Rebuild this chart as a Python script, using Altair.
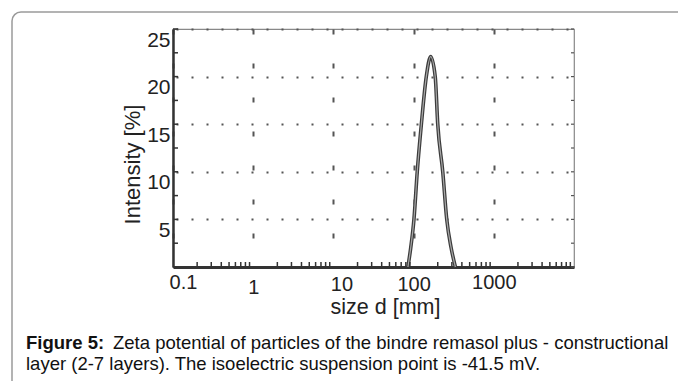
import altair as alt
import pandas as pd

# ---- data ----
sizes = [85, 92, 101, 111, 125, 144, 163, 186, 200, 231, 259, 294, 332]
intensity = [0, 2, 5, 10, 15, 20, 22.1, 20, 15, 10, 5, 2, 0]

x_tick_values = [0.1, 1, 10, 100, 1000]
y_tick_values = [0, 5, 10, 15, 20, 25]
x_minor = [m * 10 ** e for e in range(-1, 4) for m in range(2, 10)]
y_minor = [2.5, 7.5, 12.5, 17.5, 22.5]

x_title = "size d [mm]"
y_title = "Intensity [%]"
caption_bold = ["Figure 5:"]
caption_rest = ["Zeta potential of particles of the bindre remasol plus - constructional"]
caption_line2 = ["layer (2-7 layers). The isoelectric suspension point is -41.5 mV."]

W, H = 401, 238
FONT = "Liberation Sans"
CAP = 18.5

df = pd.DataFrame({"size": sizes, "intensity": intensity})

xs = alt.Scale(type="log", domain=[0.1, 10000], nice=False)
ys = alt.Scale(domain=[0, 25], nice=False)

base = alt.Chart(df).encode(
    x=alt.X("size:Q", scale=xs,
            axis=alt.Axis(values=x_tick_values, title=x_title, grid=True,
                          gridDash=[5, 29], gridColor="#555", gridWidth=2,
                          ticks=False, labelFlush=False,
                          labelPadding={"condition": [
                              {"test": "datum.value > 0.5 && datum.value < 5", "value": 10},
                              {"test": "datum.value > 5 && datum.value < 500", "value": 7}],
                              "value": 5},
                          labelOffset={"condition": [
                              {"test": "datum.value < 0.5", "value": 10},
                              {"test": "datum.value > 5 && datum.value < 50", "value": 8}],
                              "value": 0},
                          labelFontSize=20, labelFont=FONT, labelColor="#222",
                          labelExpr="format(datum.value, '~g')",
                          domainColor="#333", domainWidth=3,
                          titleFontSize=21.5, titleFont=FONT, titleFontWeight="normal",
                          titleColor="#222", titleAlign="center",
                          titleBaseline="alphabetic", titleX=212, titleY=46)),
    y=alt.Y("intensity:Q", scale=ys,
            axis=alt.Axis(values=y_tick_values, title=y_title, grid=True,
                          gridDash=[2, 13], gridColor="#555", gridWidth=2.2,
                          gridDashOffset=-3,
                          ticks=False, labelPadding=3, labelBaseline="top",
                          labelFontSize=21, labelFont=FONT, labelColor="#222",
                          labelExpr="datum.value == 0 ? '' : datum.label",
                          domainColor="#333", domainWidth=2.5,
                          titleFontSize=22, titleFont=FONT, titleFontWeight="normal",
                          titleColor="#222", titleAngle=-90, titleAlign="center",
                          titleBaseline="alphabetic", titleX=-34, titleY=135)),
)

line_outer = base.mark_line(color="#3c3c3c", strokeWidth=3.6, interpolate="monotone")
line_inner = base.mark_line(color="#a8a8a8", strokeWidth=1.2, interpolate="monotone")

xminor_df = pd.DataFrame({"xm": x_minor})
xminor = alt.Chart(xminor_df).mark_rule(color="#333", strokeWidth=1.5).encode(
    x=alt.X("xm:Q", scale=xs), y=alt.value(H), y2=alt.value(H - 5))

yminor_df = pd.DataFrame({"ym": y_minor + y_tick_values})
yminor = alt.Chart(yminor_df).mark_rule(color="#333", strokeWidth=1.5).encode(
    y=alt.Y("ym:Q", scale=ys), x=alt.value(0), x2=alt.value(5))
yminor_r = alt.Chart(yminor_df).mark_rule(color="#555", strokeWidth=1.2).encode(
    y=alt.Y("ym:Q", scale=ys), x=alt.value(W), x2=alt.value(W - 3))

one = pd.DataFrame({"t": caption_bold, "r": caption_rest, "l2": caption_line2})

frame = alt.Chart(one).mark_rect(filled=False, stroke="#9a9a9a", strokeWidth=1.5,
                                 cornerRadius=9).encode(
    x=alt.value(-161), x2=alt.value(W + 200), y=alt.value(-17), y2=alt.value(H + 200))

cap1 = alt.Chart(one).mark_text(align="left", baseline="alphabetic", fontSize=CAP,
                                font=FONT, fontWeight="bold", color="#111").encode(
    x=alt.value(-147), y=alt.value(320), text="t:N")
cap2 = alt.Chart(one).mark_text(align="left", baseline="alphabetic", fontSize=CAP,
                                font=FONT, color="#111").encode(
    x=alt.value(-60), y=alt.value(320), text="r:N")
cap3 = alt.Chart(one).mark_text(align="left", baseline="alphabetic", fontSize=CAP,
                                font=FONT, color="#111").encode(
    x=alt.value(-147), y=alt.value(341), text="l2:N")

chart = alt.layer(frame, line_outer, line_inner, xminor, yminor, yminor_r,
                  cap1, cap2, cap3).properties(
    width=W, height=H,
    padding={"left": 173, "top": 29, "right": 678 - 173 - W, "bottom": 381 - 29 - H},
    autosize=alt.AutoSizeParams(type="none"),
    background="white",
).configure_view(stroke="#888", strokeWidth=1.2)

chart.save("out.html", embed_options={"renderer": "svg", "actions": False})
